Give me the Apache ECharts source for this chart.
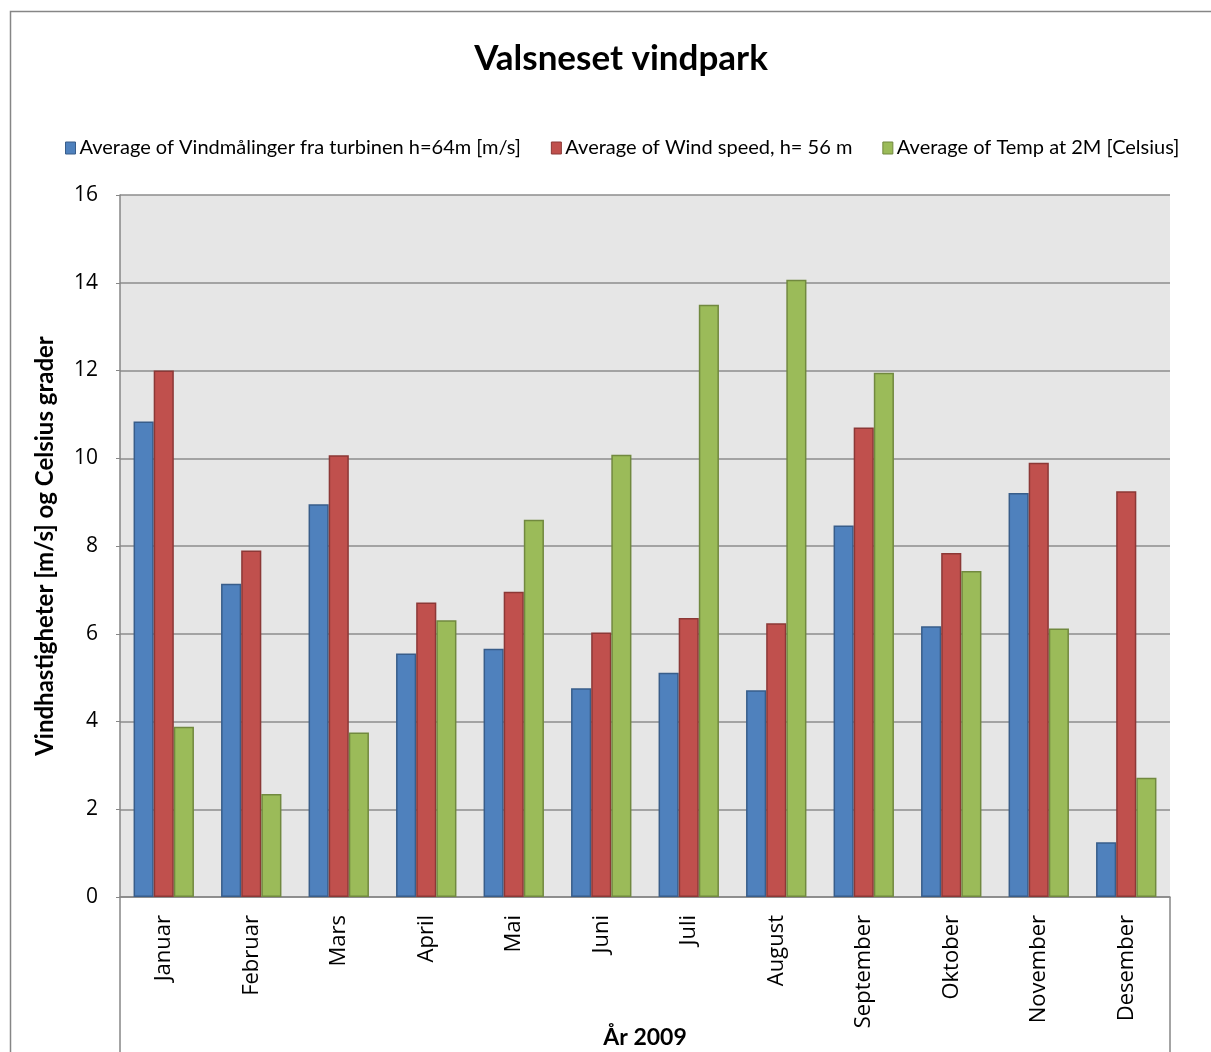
<!DOCTYPE html>
<html>
<head>
<meta charset="utf-8">
<title>Valsneset vindpark</title>
<script src="https://cdn.jsdelivr.net/npm/echarts@6/dist/echarts.min.js"></script>
<style>
  html, body { margin: 0; padding: 0; background: #fff; }
  #chart { width: 1211px; height: 1052px; }
</style>
</head>
<body>
<div id="chart"></div>
<script>
// Months of 2009
const months = ['Januar', 'Februar', 'Mars', 'April', 'Mai', 'Juni', 'Juli', 'August', 'September', 'Oktober', 'November', 'Desember'];

// Monthly averages
const turbineWind64 = [10.84, 7.14, 8.95, 5.55, 5.66, 4.76, 5.11, 4.71, 8.47, 6.17, 9.21, 1.25];
const windSpeed56 = [12.0, 7.90, 10.07, 6.71, 6.96, 6.03, 6.36, 6.24, 10.70, 7.84, 9.90, 9.25];
const temp2m = [3.88, 2.35, 3.75, 6.31, 8.60, 10.08, 13.50, 14.07, 11.95, 7.43, 6.12, 2.72];

const seriesNames = [
  'Average of Vindmålinger fra turbinen h=64m [m/s]',
  'Average of Wind speed, h= 56 m',
  'Average of Temp at 2M [Celsius]'
];

const yTicks = { min: 0, max: 16, interval: 2 };

const palette = [
  { fill: '#4F81BD', edge: '#385D8A' },
  { fill: '#C0504D', edge: '#8C3836' },
  { fill: '#9BBB59', edge: '#71893F' }
];

const labelFont = '"Open Sans", "DejaVu Sans", sans-serif';
const headFont = 'Lato, "Open Sans", sans-serif';

const chart = echarts.init(document.getElementById('chart'), null, { renderer: 'canvas' });

const grid = { left: 120, right: 41, top: 195, bottom: 155 };

function barSeries(name, values, colors) {
  return {
    name: name,
    type: 'bar',
    data: values,
    barGap: '0%',
    barCategoryGap: '31%',
    itemStyle: { color: colors.fill, borderColor: colors.edge, borderWidth: 1.5 },
    emphasis: { disabled: true }
  };
}

const option = {
  backgroundColor: '#ffffff',
  animation: false,
  color: palette.map(p => p.fill),
  title: {
    text: 'Valsneset vindpark',
    left: 616,
    top: 36,
    textAlign: 'center',
    textStyle: { fontFamily: headFont, fontWeight: 'bold', fontSize: 35, color: '#000' }
  },
  legend: {
    left: 60,
    top: 133,
    itemWidth: 10,
    itemHeight: 12,
    itemGap: 30,
    icon: 'rect',
    textStyle: { fontFamily: headFont, fontSize: 20, color: '#000', padding: [0, 0, 0, -1] },
    data: seriesNames.map((n, i) => ({
      name: n,
      itemStyle: { color: palette[i].fill, borderColor: palette[i].edge, borderWidth: 1 }
    }))
  },
  grid: Object.assign({ show: true, backgroundColor: '#e6e6e6', borderWidth: 0, outerBoundsMode: 'none', containLabel: false }, grid),
  xAxis: {
    type: 'category',
    data: months,
    name: 'År 2009',
    nameLocation: 'middle',
    nameGap: 129,
    nameMoveOverlap: false,
    nameTextStyle: { fontFamily: headFont, fontWeight: 'bold', fontSize: 23, color: '#000' },
    axisLine: { show: true, lineStyle: { color: '#868686', width: 1.5 } },
    axisTick: { show: false },
    axisLabel: { rotate: 90, margin: 18, fontFamily: labelFont, fontSize: 22, color: '#000', interval: 0 },
    splitLine: { show: false }
  },
  yAxis: {
    type: 'value',
    min: yTicks.min,
    max: yTicks.max,
    interval: yTicks.interval,
    name: 'Vindhastigheter [m/s] og Celsius grader',
    nameLocation: 'middle',
    nameGap: 63,
    nameMoveOverlap: false,
    nameTextStyle: { fontFamily: headFont, fontWeight: 'bold', fontSize: 24, color: '#000' },
    axisLine: { show: true, lineStyle: { color: '#868686', width: 1.5 } },
    axisTick: { show: true, length: 4, lineStyle: { color: '#868686' } },
    axisLabel: { margin: 22, fontFamily: labelFont, fontSize: 21, color: '#000' },
    splitLine: { show: true, lineStyle: { color: '#8c8c8c', width: 1.5 } }
  },
  series: [
    barSeries(seriesNames[0], turbineWind64, palette[0]),
    barSeries(seriesNames[1], windSpeed56, palette[1]),
    barSeries(seriesNames[2], temp2m, palette[2])
  ],
  graphic: [
    // chart frame
    { type: 'polyline', silent: true, shape: { points: [[10.5, 1052], [10.5, 11.5], [1211, 11.5]] },
      style: { stroke: '#868686', lineWidth: 1.5, fill: null } },
    // category band edges below the axis
    { type: 'line', silent: true, shape: { x1: 120, y1: 897, x2: 120, y2: 1052 },
      style: { stroke: '#868686', lineWidth: 1.5 } },
    { type: 'line', silent: true, shape: { x1: 1170, y1: 897, x2: 1170, y2: 1052 },
      style: { stroke: '#868686', lineWidth: 1.5 } }
  ]
};

chart.setOption(option);
</script>
</body>
</html>
